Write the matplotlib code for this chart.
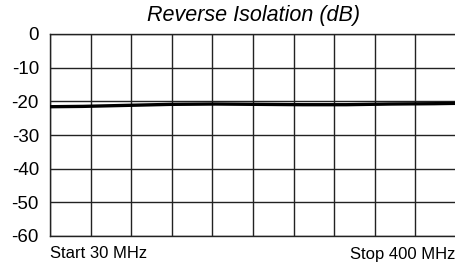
import matplotlib.pyplot as plt
import numpy as np

plt.rcParams['font.family'] = ['Liberation Sans', 'DejaVu Sans']

# Reverse isolation trace
freq_mhz = [30, 60, 100, 140, 180, 220, 260, 300, 340, 380, 400]
isolation_db = [-21.6, -21.5, -21.2, -20.9, -20.8, -20.9, -21.0, -21.0, -20.8, -20.7, -20.6]

y_ticks = [0, -10, -20, -30, -40, -50, -60]
start_mhz, stop_mhz = 30, 400
n_div = 10

fig = plt.figure(figsize=(4.56, 2.67), dpi=100)
ax = fig.add_axes([50 / 456, 1 - 236 / 267, 406 / 456, 202 / 267])

ax.plot(freq_mhz, isolation_db, color='black', linewidth=2.4, zorder=3)

ax.set_xlim(start_mhz, stop_mhz)
ax.set_ylim(-60, 0)
ax.set_xticks(np.linspace(start_mhz, stop_mhz, n_div + 1))
ax.set_xticklabels([])
ax.set_yticks(y_ticks)
ax.set_yticklabels([str(t) for t in y_ticks], fontsize=13.5)
ax.tick_params(length=0, pad=8)
ax.grid(True, color='#222222', linewidth=1.0)
ax.set_axisbelow(True)

for side in ['left', 'bottom', 'top']:
    ax.spines[side].set_color('#222222')
    ax.spines[side].set_linewidth(1.0)
ax.spines['right'].set_visible(False)

fig.text(254 / 456, 1 - 16 / 267, 'Reverse Isolation (dB)', fontsize=15.5,
         style='italic', ha='center', va='center')
fig.text(50 / 456, 1 - 254 / 267, f'Start {start_mhz} MHz', fontsize=12,
         ha='left', va='center')
fig.text(455 / 456, 1 - 254 / 267, f'Stop {stop_mhz} MHz', fontsize=12,
         ha='right', va='center')

fig.savefig('out.png', dpi=100)
